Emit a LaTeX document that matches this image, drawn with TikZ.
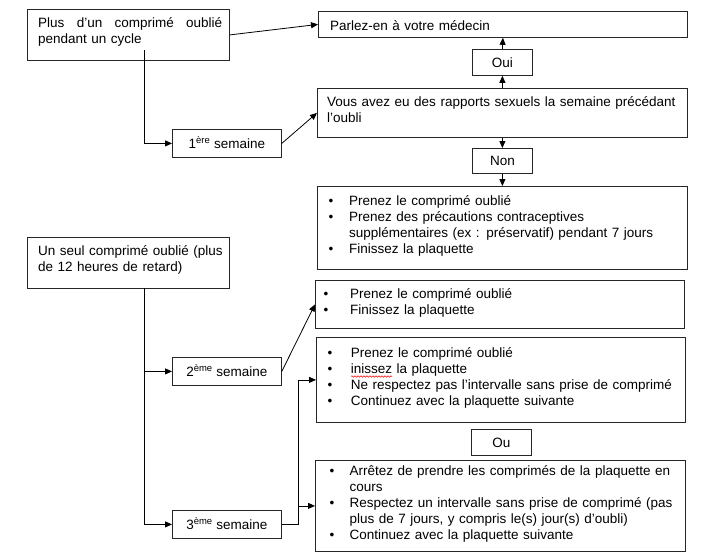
\documentclass[tikz,border=0pt]{standalone}
\usepackage{fontspec}
\setmainfont{Liberation Sans}
\usetikzlibrary{arrows.meta,decorations.pathmorphing}
\newcommand{\bul}[1]{\makebox[#1][l]{\textbullet}}
\newcommand{\ind}[1]{\hspace*{#1}}
\begin{document}
\begin{tikzpicture}[x=1pt,y=-1pt,
  box/.style={draw=black!85, line width=0.8pt, inner sep=0pt, anchor=north west},
  lbl/.style={box, text height=9.7pt, text depth=0pt, font=\fontsize{13.5}{16}\selectfont},
  txt/.style={inner sep=0pt, anchor=base west, align=left, text width=365pt, font=\fontsize{13.5}{16}\selectfont},
  arr/.style={line width=0.8pt, black, -{Triangle[length=7pt,width=6pt]}}]
\useasboundingbox (0,0) rectangle (702,552);
\fill[white] (0,0) rectangle (702,552);

% boxes
\node[box, minimum width=202pt, minimum height=51pt] (b1) at (27,9) {};
\node[box, minimum width=369pt, minimum height=26pt] (b2) at (318,11) {};
\node[lbl, minimum width=60pt, minimum height=26pt] (oui) at (472,49) {Oui};
\node[box, minimum width=370pt, minimum height=49pt] (b4) at (317,88) {};
\node[lbl, minimum width=60pt, minimum height=25pt] (non) at (472,148) {Non};
\node[lbl, minimum width=109pt, minimum height=28pt] (b6) at (172,129) {1\textsuperscript{ère} semaine};
\node[box, minimum width=370pt, minimum height=83pt] (b7) at (317,186) {};
\node[box, minimum width=202pt, minimum height=51pt] (b8) at (27,237) {};
\node[box, minimum width=369pt, minimum height=48pt] (b9) at (315,280) {};
\node[box, minimum width=369pt, minimum height=85pt] (b10) at (316,337) {};
\node[lbl, minimum width=60pt, minimum height=26pt] (ou) at (471,429) {Ou};
\node[box, minimum width=370pt, minimum height=91pt] (b12) at (315,460) {};
\node[lbl, minimum width=109pt, minimum height=28pt] (b13) at (172,357) {2\textsuperscript{ème} semaine};
\node[lbl, minimum width=109pt, minimum height=28pt] (b14) at (172,510) {3\textsuperscript{ème} semaine};

% texts
\node[txt] (t1) at (38,27) {\makebox[184pt][l]{Plus\hfill d’un\hfill comprimé\hfill oublié}\\pendant un cycle};
\node[txt] (t2) at (330,30) {Parlez-en à votre médecin};
\node[txt] (t4) at (327,106) {Vous avez eu des rapports sexuels la semaine précédant\\l’oubli};
\node[txt] (t7) at (328.5,205) {\bul{20.5pt}Prenez le comprimé oublié\\
\bul{20.5pt}Prenez des précautions contraceptives\\
\ind{20.5pt}supplémentaires (ex : préservatif) pendant 7 jours\\
\bul{20.5pt}Finissez la plaquette};
\node[txt] (t8) at (38,255) {Un seul comprimé oublié (plus\\de 12 heures de retard)};
\node[txt] (t9) at (323.5,298) {\bul{26.5pt}Prenez le comprimé oublié\\
\bul{26.5pt}Finissez la plaquette};
\node[txt] (t10) at (327.5,357) {\bul{23.2pt}Prenez le comprimé oublié\\
\bul{23.2pt}inissez la plaquette\\
\bul{23.2pt}Ne respectez pas l’intervalle sans prise de comprimé\\
\bul{23.2pt}Continuez avec la plaquette suivante};
\node[txt] (t12) at (329.3,475) {\bul{20.2pt}Arrêtez de prendre les comprimés de la plaquette en\\
\ind{20.2pt}cours\\
\bul{20.2pt}Respectez un intervalle sans prise de comprimé (pas\\
\ind{20.2pt}plus de 7 jours, y compris le(s) jour(s) d’oubli)\\
\bul{20.2pt}Continuez avec la plaquette suivante};

% spell-check underline
\draw[red, line width=0.5pt, decorate, decoration={snake, amplitude=0.8pt, segment length=3pt}] (351,376.5) -- (392,376.5);

% connectors
\coordinate (c1) at (144,50);
\coordinate (c2) at (144,288);
\draw[arr] (b1.east) -- (b2.west);
\draw[arr] (c1) |- (b6.west);
\draw[arr] (b6.east) -- (b4.west);
\draw[arr] (b4.north) -- (oui.south);
\draw[arr] (oui.north) -- (b2.south);
\draw[arr] (b4.south) -- (non.north);
\draw[arr] (non.south) -- (b7.north);
\draw[arr] (c2) |- (b13.west);
\draw[arr] (c2) |- (b14.west);
\draw[arr] (b13.east) -- (b9.west);
\draw[arr] (b14.east) -- ++(17,0) coordinate (c3) |- (b10.west);
\draw[arr] (c3) |- (b12.west);
\end{tikzpicture}
\end{document}
